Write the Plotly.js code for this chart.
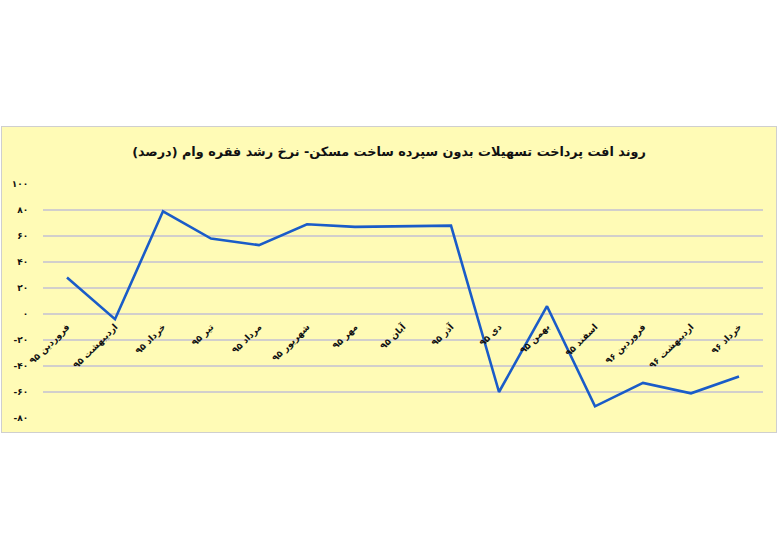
<!DOCTYPE html>
<html>
<head>
<meta charset="utf-8">
<script src="https://cdn.plot.ly/plotly-3.0.1.min.js"></script>
<style>
  body { margin: 0; background: #ffffff; width: 780px; height: 560px; position: relative; }
  #chart { position: absolute; left: 1px; top: 126px; width: 774px; height: 305px; border: 1px solid #cfcfcf; }
</style>
</head>
<body>
<div id="chart"></div>
<script>
// months (Persian calendar), growth rate of loan count in percent
var months = ['فروردین ۹۵', 'اردیبهشت ۹۵', 'خرداد ۹۵', 'تیر ۹۵', 'مرداد ۹۵', 'شهریور ۹۵', 'مهر ۹۵', 'آبان ۹۵',
	'آذر ۹۵', 'دی ۹۵', 'بهمن ۹۵', 'اسفند ۹۵', 'فروردین ۹۶', 'اردیبهشت ۹۶', 'خرداد ۹۶'];
var growth = [28, -4, 79, 58, 53, 69, 67, 67.5, 68, -60, 6, -71, -53, -61, -48];

var yTicks = [100, 80, 60, 40, 20, 0, -20, -40, -60, -80];
var yTickText = ['۱۰۰', '۸۰', '۶۰', '۴۰', '۲۰', '۰', '-۲۰', '-۴۰', '-۶۰', '-۸۰'];

var chartTitle = 'روند افت پرداخت تسهیلات بدون سپرده ساخت مسکن- نرخ رشد فقره وام (درصد)';

var trace = {
	x: months,
	y: growth,
	mode: 'lines',
	type: 'scatter',
	line: {color: '#1a5cc8', width: 2.6},
	hoverinfo: 'x+y'
};

var layout = {
	width: 774,
	height: 305,
	paper_bgcolor: '#fffbb6',
	plot_bgcolor: '#fffbb6',
	margin: {l: 41, r: 13, t: 57, b: 14},
	showlegend: false,
	font: {family: 'DejaVu Sans', color: '#111111'},
	title: {
		text: '<b>' + chartTitle + '</b>',
		font: {size: 12.8, color: '#111111', family: 'DejaVu Sans'},
		x: 0.5, xanchor: 'center',
		y: 0.918, yanchor: 'middle'
	},
	xaxis: {
		type: 'category',
		range: [-0.5, 14.5],
		anchor: 'free',
		position: 80 / 180,
		showgrid: false,
		showline: false,
		zeroline: false,
		ticks: 'outside',
		ticklen: 3,
		tickcolor: 'rgba(0,0,0,0)',
		tickangle: -45,
		tickfont: {size: 9, color: '#111111', family: 'DejaVu Sans', weight: 'bold'}
	},
	yaxis: {
		range: [-80, 100],
		tickvals: yTicks,
		ticktext: yTickText,
		showgrid: true,
		gridcolor: '#d2cfcc',
		gridwidth: 2,
		zeroline: true,
		zerolinecolor: '#d2cfcc',
		zerolinewidth: 2,
		showline: false,
		ticks: 'outside',
		ticklen: 12,
		tickcolor: 'rgba(0,0,0,0)',
		tickfont: {size: 9, color: '#111111', family: 'DejaVu Sans', weight: 'bold'}
	}
};

Plotly.newPlot('chart', [trace], layout, {displayModeBar: false});
</script>
</body>
</html>
